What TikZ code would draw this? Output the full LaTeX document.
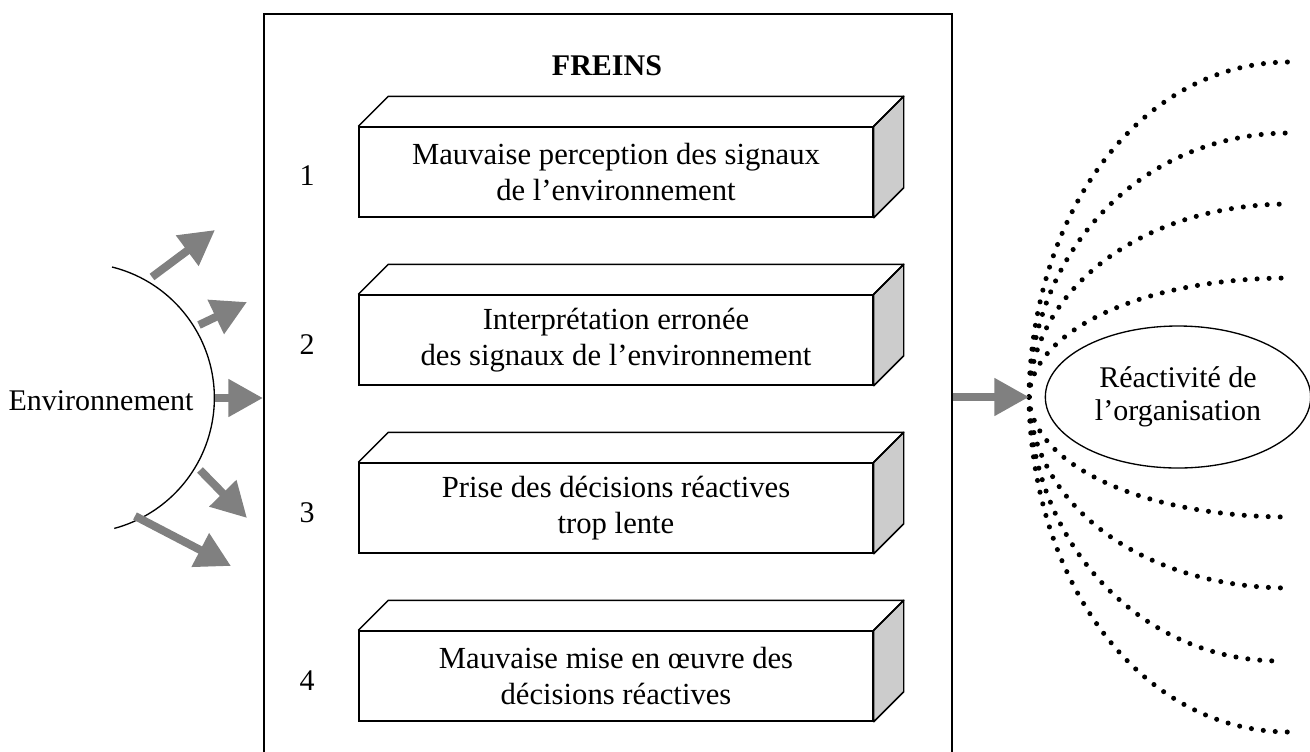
\documentclass[tikz,border=0pt]{standalone}
\usepackage{fontspec}
\setmainfont{Liberation Serif}
\usetikzlibrary{arrows.meta,calc,shapes.geometric}
\begin{document}
\begin{tikzpicture}[x=0.75pt,y=0.75pt,
  txt/.style={font=\fontsize{22.5}{27}\selectfont, align=center},
  brake/.style={draw, line width=1.1pt, fill=white, minimum width=385.5pt, minimum height=67.5pt, inner sep=0pt, font=\fontsize{23}{27}\selectfont, align=center},
  sideface/.style={draw, line width=1.1pt, fill=gray!40, line join=round},
  topface/.style={draw, line width=1.1pt, line join=round},
  bigarrow/.style={draw=gray, line width=6pt, -{Triangle[length=26pt,width=27pt]}, gray},
  dots/.style={line width=3.8pt, line cap=round, dash pattern=on 0pt off 9pt, black},
]
\useasboundingbox (0,0) rectangle (1310,-751);
\clip (0,0) rectangle (1310,-751);

% main frame (open at the bottom of the picture)
\node (frame) [draw, line width=1.2pt, minimum width=516pt, minimum height=570pt, anchor=north west, inner sep=0pt] at (263,-13) {};
\node (freins) [font={\fontsize{22.5}{27}\selectfont\bfseries}] at (607,-66) {FREINS};

% brake boxes
\node (b1) [brake] at (616,-172) {Mauvaise perception des signaux\\de l’environnement};
\node (b2) [brake] at (616,-340) {Interprétation erronée\\des signaux de l’environnement};
\node (b3) [brake] at (616,-508) {Prise des décisions réactives\\trop lente};
\node (b4) [brake] at (616,-676) {Mauvaise mise en œuvre des\\décisions réactives};
\foreach \b in {b1,b2,b3,b4}{
  \path[sideface] (\b.north east) -- ++(30,30) -- ($(\b.south east)+(30,30)$) -- (\b.south east) -- cycle;
  \path[topface] (\b.north west) -- ++(30,30) -- ($(\b.north east)+(30,30)$) -- (\b.north east);
}
\node (n1) [txt] at (307,-176) {1};
\node (n2) [txt] at (307,-345) {2};
\node (n3) [txt] at (307,-513) {3};
\node (n4) [txt] at (307,-681) {4};

% environment
\node (env) [txt] at (101,-401) {Environnement};
\draw[line width=1pt] (112,-267) arc[start angle=76, end angle=-75, radius=135];
\coordinate (s1) at (152,-277); \coordinate (t1) at (215,-230);
\coordinate (s2) at (199,-325); \coordinate (t2) at (247,-302);
\coordinate (s3) at (215,-398); \coordinate (t3) at (frame.west |- s3);
\coordinate (s4) at (200,-470); \coordinate (t4) at (247,-518);
\coordinate (s5) at (135,-516); \coordinate (t5) at (231,-566);
\foreach \i in {1,...,5}{ \draw[bigarrow] (s\i) -- (t\i); }

% reactivity
\coordinate (conv) at (1029,-397);
\foreach \ye/\xe in {62/1290,133/1290,204/1290,278/1290,517/1290,588/1290,661/1280,732/1290}{
  \draw[dots] (conv) .. controls (1031,{-(398-0.55*(398-\ye))}) and (1140,-\ye) .. (\xe,-\ye);
}
\draw[bigarrow] (frame.east |- conv) -- (conv);
\node (react) [draw, ellipse, line width=1pt, fill=white, minimum width=199pt, minimum height=106.5pt, inner sep=0pt, font=\fontsize{22.5}{25}\selectfont, align=center] at (1178,-397) {Réactivité de\\l’organisation};
\end{tikzpicture}
\end{document}
